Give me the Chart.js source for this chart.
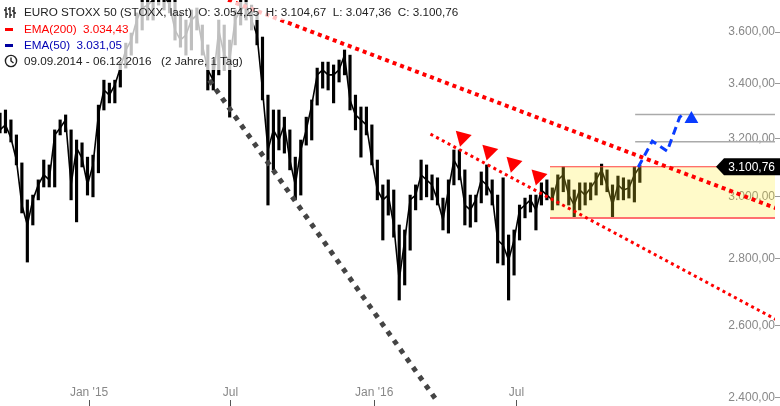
<!DOCTYPE html>
<html>
<head>
<meta charset="utf-8">
<script src="https://cdn.jsdelivr.net/npm/chart.js@4.4.1/dist/chart.umd.min.js"></script>
<style>
  html, body { margin: 0; padding: 0; background: #fff; }
  #wrap { position: relative; width: 780px; height: 406px; overflow: hidden; font-family: "Liberation Sans", Arial, sans-serif; }
  #c { position: absolute; left: 0; top: 0; }
  .box { position: absolute; left: 0; background: rgba(255,255,255,0.75); }
  .row { position: absolute; left: 24px; font-size: 11.7px; line-height: 16px; white-space: pre; color: #222; }
  .ico { position: absolute; left: 4px; }
</style>
</head>
<body>
<div id="wrap">
  <canvas id="c" width="780" height="406"></canvas>
  <div class="box" style="top:2px;height:18px;width:466px;"></div>
  <div class="box" style="top:20px;height:50px;width:254px;"></div>
  <svg class="ico" style="top:6px" width="14" height="13" viewBox="0 0 14 13">
    <path d="M2 1v11M6 1v11M10 1v11M0 4h2M2 8h2M4 3h2M6 9h2M8 5h2M10 7h2" stroke="#222" stroke-width="1.4" fill="none"/>
  </svg>
  <div class="row" style="top:4px">EURO STOXX 50 (STOXX, last)  O: 3.054,25  H: 3.104,67  L: 3.047,36  C: 3.100,76</div>
  <div style="position:absolute;left:5px;top:28px;width:8px;height:3px;background:#ff0000"></div>
  <div class="row" style="top:21px;color:#ff0000">EMA(200)  3.034,43</div>
  <div style="position:absolute;left:5px;top:44px;width:8px;height:3px;background:#0000a0"></div>
  <div class="row" style="top:37px;color:#0000b4">EMA(50)  3.031,05</div>
  <svg class="ico" style="top:54px" width="14" height="14" viewBox="0 0 14 14">
    <circle cx="7" cy="7" r="5.6" stroke="#222" stroke-width="1.4" fill="none"/>
    <path d="M7 3.5V7l2.5 2" stroke="#222" stroke-width="1.4" fill="none"/>
  </svg>
  <div class="row" style="top:53px">09.09.2014 - 06.12.2016   (2 Jahre, 1 Tag)</div>
</div>
<script>
// EURO STOXX 50, weekly bars from 09.09.2014 (x = days since start)
const weekHigh = [
  3291, 3302, 3266, 3212, 3114, 2989, 3005, 3056, 3124, 3107,
  3230, 3266, 3284, 3230, 3194, 3184, 3134, 3141, 3320, 3413,
  3402, 3413, 3482, 3556, 3596, 3677, 3730, 3771, 3792, 3835,
  3813, 3792, 3730, 3677, 3648, 3689, 3697, 3628, 3549, 3490,
  3648, 3628, 3568, 3689, 3730, 3751, 3709, 3677, 3580, 3357,
  3302, 3302, 3276, 3230, 3134, 3194, 3276, 3339, 3459, 3482,
  3482, 3471, 3490, 3529, 3509, 3357, 3313, 3313, 3248, 3124,
  3039, 3056, 3022, 2907, 2891, 3005, 3039, 3124, 3107, 3073,
  3063, 2995, 3056, 3159, 3159, 3090, 3005, 3005, 3083, 3107,
  3056, 3005, 3063, 2875, 2891, 2972, 2995, 3005, 3005, 3046,
  3056, 3029, 3073, 3100, 3056, 3022, 3046, 3046, 3046, 3080,
  3110, 3090, 3039, 3069, 3063, 3056, 3100, 3104.67
];
const weekLow = [
  3219, 3219, 3187, 3107, 2946, 2790, 2907, 2989, 3032, 3032,
  3032, 3212, 3223, 2989, 2917, 3100, 3005, 2999, 3080, 3302,
  3328, 3328, 3387, 3459, 3509, 3556, 3608, 3648, 3648, 3709,
  3689, 3677, 3568, 3540, 3509, 3529, 3608, 3509, 3376, 3376,
  3433, 3452, 3276, 3549, 3628, 3648, 3608, 3549, 3339, 2972,
  3090, 3159, 3148, 3090, 2989, 3005, 3176, 3194, 3320, 3383,
  3376, 3328, 3406, 3433, 3302, 3230, 3134, 3212, 3107, 2989,
  2859, 2939, 2868, 2675, 2720, 2827, 2956, 2989, 2999, 2989,
  2972, 2891, 2881, 3039, 3056, 2907, 2900, 2917, 2979, 3005,
  2972, 2787, 2781, 2675, 2750, 2859, 2930, 2949, 2891, 2972,
  2989, 2956, 2972, 3016, 2972, 2930, 2956, 2972, 2989, 3005,
  3039, 3016, 2933, 2989, 2989, 2995, 2982, 3047.36
];
const weekClose = [
  3230, 3248, 3201, 3124, 2972, 2907, 2989, 3039, 3073, 3056,
  3212, 3237, 3266, 3039, 3166, 3131, 3039, 3107, 3284, 3376,
  3357, 3395, 3459, 3529, 3568, 3648, 3697, 3709, 3730, 3771,
  3751, 3709, 3608, 3568, 3588, 3648, 3668, 3549, 3452, 3413,
  3608, 3509, 3490, 3648, 3689, 3709, 3648, 3588, 3376, 3159,
  3230, 3194, 3248, 3124, 3039, 3159, 3230, 3320, 3433, 3452,
  3433, 3433, 3452, 3509, 3339, 3284, 3266, 3248, 3124, 3022,
  2989, 3005, 2907, 2735, 2859, 2989, 3005, 3073, 3056, 3039,
  2989, 2923, 3022, 3124, 3090, 2972, 2956, 2989, 3056, 3039,
  3005, 2859, 2843, 2796, 2859, 2956, 2972, 2989, 2956, 3022,
  3005, 2989, 3056, 3073, 3005, 2972, 3022, 3005, 3029, 3056,
  3090, 3039, 2972, 3039, 3022, 3029, 3073, 3100.76
];
const lastClose = 3100.76;

const xTickDays = [114, 295, 479, 661];
const xTickLabels = ["Jan '15", 'Jul', "Jan '16", 'Jul'];
const yTicks = [2400, 2600, 2800, 3000, 3200, 3400, 3600];

// drawings, as [day, price]
const upperTrend = [[292, 3730], [999, 2956]];
const lowerTrend = [[551, 3215], [999, 2611]];
const supportTrend = [[268, 3413], [570, 2361]];
const rangeTop = [[704, 3100.76], [1000, 3100.76]];
const rangeBottom = [[704, 2930], [1000, 2930]];
const targetHi = [[813, 3286], [1000, 3286]];
const targetLo = [[813, 3188], [1000, 3188]];
const bluePath = [[817, 3100], [835, 3190], [854, 3155], [870, 3276], [877, 3291]];
const blueHead = [[885, 3269]];
const redMarks = [[592, 3203], [626, 3154], [657, 3112], [689, 3068]];

const pts = arr => arr.map(p => ({ x: p[0], y: p[1] }));
const deNum = v => {
  const [a, b] = v.toFixed(2).split('.');
  return a.replace(/\B(?=(\d{3})+(?!\d))/g, '.') + ',' + b;
};

const priceTag = {
  id: 'priceTag',
  afterDraw(chart) {
    const { ctx } = chart;
    const y = chart.scales.y.getPixelForValue(lastClose);
    ctx.save();
    ctx.fillStyle = '#000';
    ctx.beginPath();
    ctx.moveTo(716, y);
    ctx.lineTo(724, y - 8.5);
    ctx.lineTo(780, y - 8.5);
    ctx.lineTo(780, y + 8.5);
    ctx.lineTo(724, y + 8.5);
    ctx.closePath();
    ctx.fill();
    ctx.fillStyle = '#fff';
    ctx.font = '12px "Liberation Sans", Arial, sans-serif';
    ctx.textAlign = 'right';
    ctx.textBaseline = 'middle';
    ctx.fillText(deNum(lastClose), 775, y + 0.5);
    ctx.restore();
  }
};

const lineDs = (data, color, width, dash, order) => ({
  type: 'line', data: pts(data), borderColor: color, borderWidth: width,
  borderDash: dash, pointRadius: 0, fill: false, tension: 0, order,
});

const noPad = s => { s.paddingLeft = 0; s.paddingRight = 0; s.paddingTop = 0; s.paddingBottom = 0; };

new Chart(document.getElementById('c'), {
  type: 'bar',
  data: {
    datasets: [
      { data: weekHigh.map((h, i) => ({ x: i * 7, y: [weekLow[i], h] })),
        backgroundColor: '#000', barThickness: 2.5, order: 20 },
      { type: 'line', data: weekClose.map((c, i) => ({ x: i * 7, y: c })),
        borderColor: '#000', borderWidth: 1.6, pointRadius: 0, tension: 0, order: 19 },
      { ...lineDs(rangeTop, '#ff4040', 1, [], 8), fill: '+1', backgroundColor: 'rgba(255,235,40,0.25)' },
      lineDs(rangeBottom, '#ff7070', 2, [], 7),
      lineDs(targetHi, '#aaaaaa', 1.5, [], 6),
      lineDs(targetLo, '#aaaaaa', 1.5, [], 6),
      lineDs(supportTrend, '#444444', 5, [5, 6], 5),
      lineDs(upperTrend, '#ff0000', 4, [4, 4], 4),
      lineDs(lowerTrend, '#ff0000', 3, [3, 3.5], 4),
      lineDs(bluePath, '#0a3cff', 3, [8, 5], 3),
      { type: 'line', data: pts(blueHead), showLine: false, pointStyle: 'triangle',
        pointRadius: 8, pointBackgroundColor: '#0a3cff', pointBorderWidth: 0, order: 2 },
      { type: 'line', data: pts(redMarks), showLine: false, pointStyle: 'triangle', pointRotation: 195,
        pointRadius: 9.5, pointBackgroundColor: '#ff0000', pointBorderWidth: 0, order: 1 },
    ]
  },
  options: {
    responsive: false,
    animation: false,
    layout: { padding: 0, autoPadding: false },
    plugins: { legend: { display: false }, tooltip: { enabled: false } },
    scales: {
      x: {
        type: 'linear', position: 'bottom', min: 0, max: 992, offset: false, bounds: 'data',
        afterBuildTicks: s => { s.ticks = xTickDays.map(v => ({ value: v })); },
        afterFit: noPad,
        ticks: { mirror: true, padding: 0, autoSkip: false, maxRotation: 0, color: '#888',
          font: { family: '"Liberation Sans", Arial, sans-serif', size: 12 },
          callback: (v, i) => xTickLabels[i] },
        grid: { display: true, drawOnChartArea: false, drawTicks: true, tickLength: 6, color: '#555', offset: false },
        border: { display: false },
      },
      y: {
        type: 'logarithmic', position: 'right', min: 2394.6, max: 3730, bounds: 'data',
        afterBuildTicks: s => { s.ticks = yTicks.map(v => ({ value: v })); },
        afterFit: noPad,
        ticks: { mirror: true, padding: 0, color: '#888',
          font: { family: '"Liberation Sans", Arial, sans-serif', size: 12 },
          callback: v => deNum(v) },
        grid: { display: true, drawOnChartArea: false, drawTicks: true, tickLength: 5, color: '#999' },
        border: { display: false },
      }
    }
  },
  plugins: [priceTag]
});
</script>
</body>
</html>
